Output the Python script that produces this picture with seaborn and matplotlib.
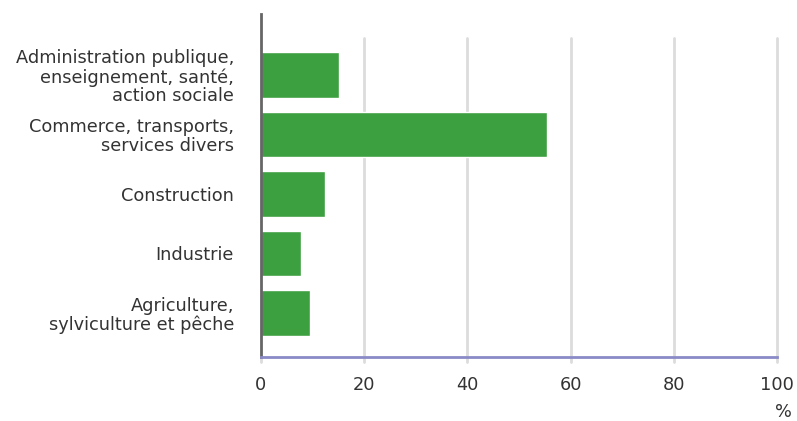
import matplotlib
matplotlib.use('Agg')
import pandas as pd
import seaborn as sns
import matplotlib.pyplot as plt

categories = [
    'Administration publique,\nenseignement, santé,\naction sociale',
    'Commerce, transports,\nservices divers',
    'Construction',
    'Industrie',
    'Agriculture,\nsylviculture et pêche',
]
values = [15.1, 55.5, 12.4, 7.8, 9.5]
xticks = [0, 20, 40, 60, 80, 100]

sns.set_theme(style='white')
plt.rcParams['font.family'] = 'sans-serif'
plt.rcParams['font.sans-serif'] = ['DejaVu Sans']

df = pd.DataFrame({'secteur': categories, 'pct': values})

fig = plt.figure(figsize=(7.97, 4.21), dpi=100)
ax = fig.add_axes([261 / 797, 64 / 421, 516 / 797, 343 / 421])

sns.barplot(data=df, y='secteur', x='pct', orient='h', color='#3c9f40',
            saturation=1, width=0.76, ax=ax)

ax.set_xlim(0, 100)
ax.set_ylim(4.74, -1.025)

# grid lines stop below the top of the left axis
for t in xticks[1:]:
    ax.axvline(t, ymin=-0.015, ymax=0.93, color='#dcdcdc', lw=2, zorder=0, clip_on=False)
ax.axvline(0, ymin=-0.015, ymax=0, color='#dcdcdc', lw=2, zorder=0, clip_on=False)

fs = 12.8
ax.set_xticks(xticks)
ax.set_xticklabels([str(t) for t in xticks], fontsize=fs, color='#333333')
ax.tick_params(axis='x', length=0, pad=14)
ax.tick_params(axis='y', length=0, pad=19.5, labelsize=fs, labelcolor='#333333')
for lab in ax.get_yticklabels():
    lab.set_linespacing(1.04)
ax.set_ylabel('')
ax.set_xlabel('')

for s in ['top', 'right']:
    ax.spines[s].set_visible(False)
ax.spines['left'].set_color('#666666')
ax.spines['left'].set_linewidth(2)
ax.spines['bottom'].set_color('#8a8ac8')
ax.spines['bottom'].set_linewidth(2)

fig.text(783 / 797, 1 - 412 / 421, '%', fontsize=fs, color='#333333',
         ha='center', va='center')

fig.savefig('out.png', dpi=100)
